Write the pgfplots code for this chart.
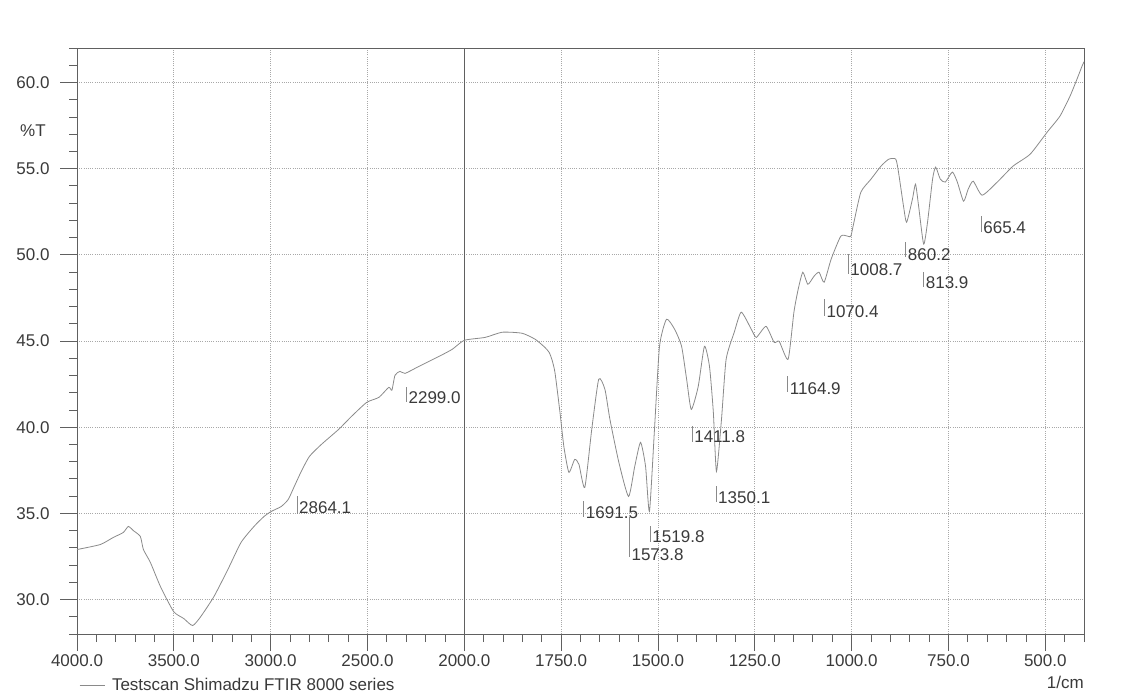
\documentclass[border=0pt]{standalone}
\usepackage{fontspec}
\setmainfont{Liberation Sans}
\usepackage{pgfplots}
\pgfplotsset{compat=1.18}
\usepackage{pgfplotstable}

\pgfplotstableread{
w T
4000 32.90
3880 33.19
3813 33.60
3761 33.89
3735 34.24
3709 34.00
3673 33.66
3657 32.90
3621 32.15
3569 30.75
3501 29.30
3449 28.90
3403 28.49
3361 29.01
3293 30.17
3221 31.74
3153 33.31
3086 34.24
3034 34.82
2997 35.11
2945 35.40
2909 35.81
2878 36.56
2842 37.43
2800 38.30
2738 39.00
2649 39.87
2582 40.63
2504 41.44
2441 41.73
2390 42.31
2374 42.14
2358 43.01
2332 43.24
2306 43.12
2234 43.53
2130 44.11
2062 44.52
2000 45.04
1946 45.21
1902 45.51
1851 45.45
1817 45.10
1792 44.63
1781 44.34
1774 43.94
1766 43.18
1753 40.86
1743 38.88
1730 37.38
1715 38.13
1704 37.84
1689 36.50
1671 39.87
1653 42.78
1637 42.20
1624 40.45
1601 37.96
1576 35.98
1560 37.72
1545 39.12
1532 37.72
1522 35.11
1509 39.87
1496 44.69
1478 46.26
1457 45.68
1439 44.69
1426 42.78
1414 41.03
1396 42.37
1380 44.69
1367 43.53
1357 40.86
1349 37.43
1336 40.45
1324 43.94
1303 45.51
1285 46.67
1259 45.68
1246 45.21
1221 45.85
1200 44.92
1187 44.98
1164 43.94
1149 46.67
1138 48.00
1126 48.99
1113 48.29
1097 48.76
1084 48.99
1071 48.41
1053 49.74
1028 51.08
1010 51.08
1002 51.08
994 51.89
976 53.64
950 54.39
924 55.15
904 55.55
886 55.55
879 54.80
866 52.82
858 51.89
843 53.23
835 54.10
827 52.82
814 50.62
804 51.89
791 54.39
783 55.09
771 54.39
758 54.22
740 54.80
727 54.22
711 53.11
699 53.81
686 54.27
663 53.46
624 54.22
583 55.15
539 55.84
495 57.12
462 58.05
436 59.21
418 60.20
405 60.95
400 61.20
}\spectrum

\pgfplotstableread{
w T ep em lab
2864.1 35.34 0.64 0.35 2864.1
2299.0 41.73 0.58 0.29 2299.0
1691.5 35.05 0.64 0.29 1691.5
1573.8 32.61 2.15 0.17 1573.8
1519.8 33.66 0.58 0.35 1519.8
1411.8 39.47 0.58 0.35 1411.8
1350.1 35.92 0.64 0.29 1350.1
1164.9 42.25 0.70 0.23 1164.9
1070.4 46.72 0.70 0.29 1070.4
1008.7 49.16 0.87 0.29 1008.7
860.2 50.03 0.70 0.17 860.2
813.9 48.41 0.58 0.29 813.9
665.4 51.60 0.64 0.29 665.4
}\peaks

\definecolor{axisgray}{HTML}{606060}
\definecolor{curvegray}{HTML}{8A8A8A}
\definecolor{gridgray}{HTML}{A8A8A8}
\definecolor{textgray}{HTML}{3A3A3A}

\begin{document}
\begin{tikzpicture}[font=\fontsize{17}{20}\selectfont]
\begin{axis}[
  at={(77pt,61pt)}, anchor=south west,
  scale only axis, width=1007pt, height=586pt,
  xmin=0, xmax=10.4, ymin=28, ymax=62,
  xtick pos=lower, ytick pos=left,
  xtick={0,1,2,3,4,5,6,7,8,9,10},
  xticklabels={4000.0,3500.0,3000.0,2500.0,2000.0,1750.0,1500.0,1250.0,1000.0,750.0,500.0},
  minor xtick={0.2,0.4,0.6,0.8,1.2,1.4,1.6,1.8,2.2,2.4,2.6,2.8,3.2,3.4,3.6,3.8,4.2,4.4,4.6,4.8,5.2,5.4,5.6,5.8,6.2,6.4,6.6,6.8,7.2,7.4,7.6,7.8,8.2,8.4,8.6,8.8,9.2,9.4,9.6,9.8,10.2,10.4},
  ytick={30,35,40,45,50,55,60},
  yticklabels={30.0,35.0,40.0,45.0,50.0,55.0,60.0},
  minor ytick={28,29,31,32,33,34,36,37,38,39,41,42,43,44,46,47,48,49,51,52,53,54,56,57,58,59,61,62},
  tick align=outside,
  major tick length=17pt, minor tick length=8pt,
  xmajorgrids, ymajorgrids,
  major grid style={gridgray, dash pattern=on 1pt off 1.2pt, line width=0.7pt},
  axis line style={axisgray, line width=0.9pt},
  tick style={axisgray, line width=0.8pt},
  ticklabel style={text=textgray},
  yticklabel style={xshift=-7pt},
  extra x ticks={4}, extra x tick labels={},
  extra x tick style={major grid style={axisgray, solid, line width=0.9pt}},
  xlabel={1/cm},
  xlabel style={at={(axis description cs:1,0)}, anchor=east, yshift=-48pt, inner sep=0pt, text=textgray},
  legend style={at={(axis description cs:0,0)}, anchor=west, yshift=-51pt, xshift=2pt,
    draw=none, fill=none, inner sep=0pt, text=textgray,
    nodes={inner xsep=7pt}},
  legend image code/.code={\draw[#1] (0pt,0pt) -- (25pt,0pt);},
  legend cell align=left,
  clip=false,
]
\addplot[curvegray, line width=0.8pt, smooth, tension=0.35]
  table[x expr={\thisrow{w}>=2000 ? (4000-\thisrow{w})/500 : 4+(2000-\thisrow{w})/250}, y=T] {\spectrum};
\addlegendentry{Testscan Shimadzu FTIR 8000 series}

\addplot[draw=none, mark=none, forget plot,
  error bars/.cd, y dir=both, y explicit, error mark=none,
  error bar style={draw=curvegray, line width=0.7pt, solid}]
  table[x expr={\thisrow{w}>=2000 ? (4000-\thisrow{w})/500 : 4+(2000-\thisrow{w})/250},
        y=T, y error plus=ep, y error minus=em] {\peaks};

\addplot[draw=none, mark=none, forget plot, point meta=explicit symbolic,
  nodes near coords,
  every node near coord/.append style={anchor=west, inner sep=0pt, xshift=2pt, text=textgray}]
  table[x expr={\thisrow{w}>=2000 ? (4000-\thisrow{w})/500 : 4+(2000-\thisrow{w})/250},
        y=T, meta=lab] {\peaks};

\node[text=textgray, anchor=center] at (axis description cs:0,1) [xshift=-44pt, yshift=-83pt] {\%T};
\end{axis}
\pgfresetboundingbox
\path[use as bounding box] (0,0) rectangle (1139pt,695pt);
\end{tikzpicture}
\end{document}
